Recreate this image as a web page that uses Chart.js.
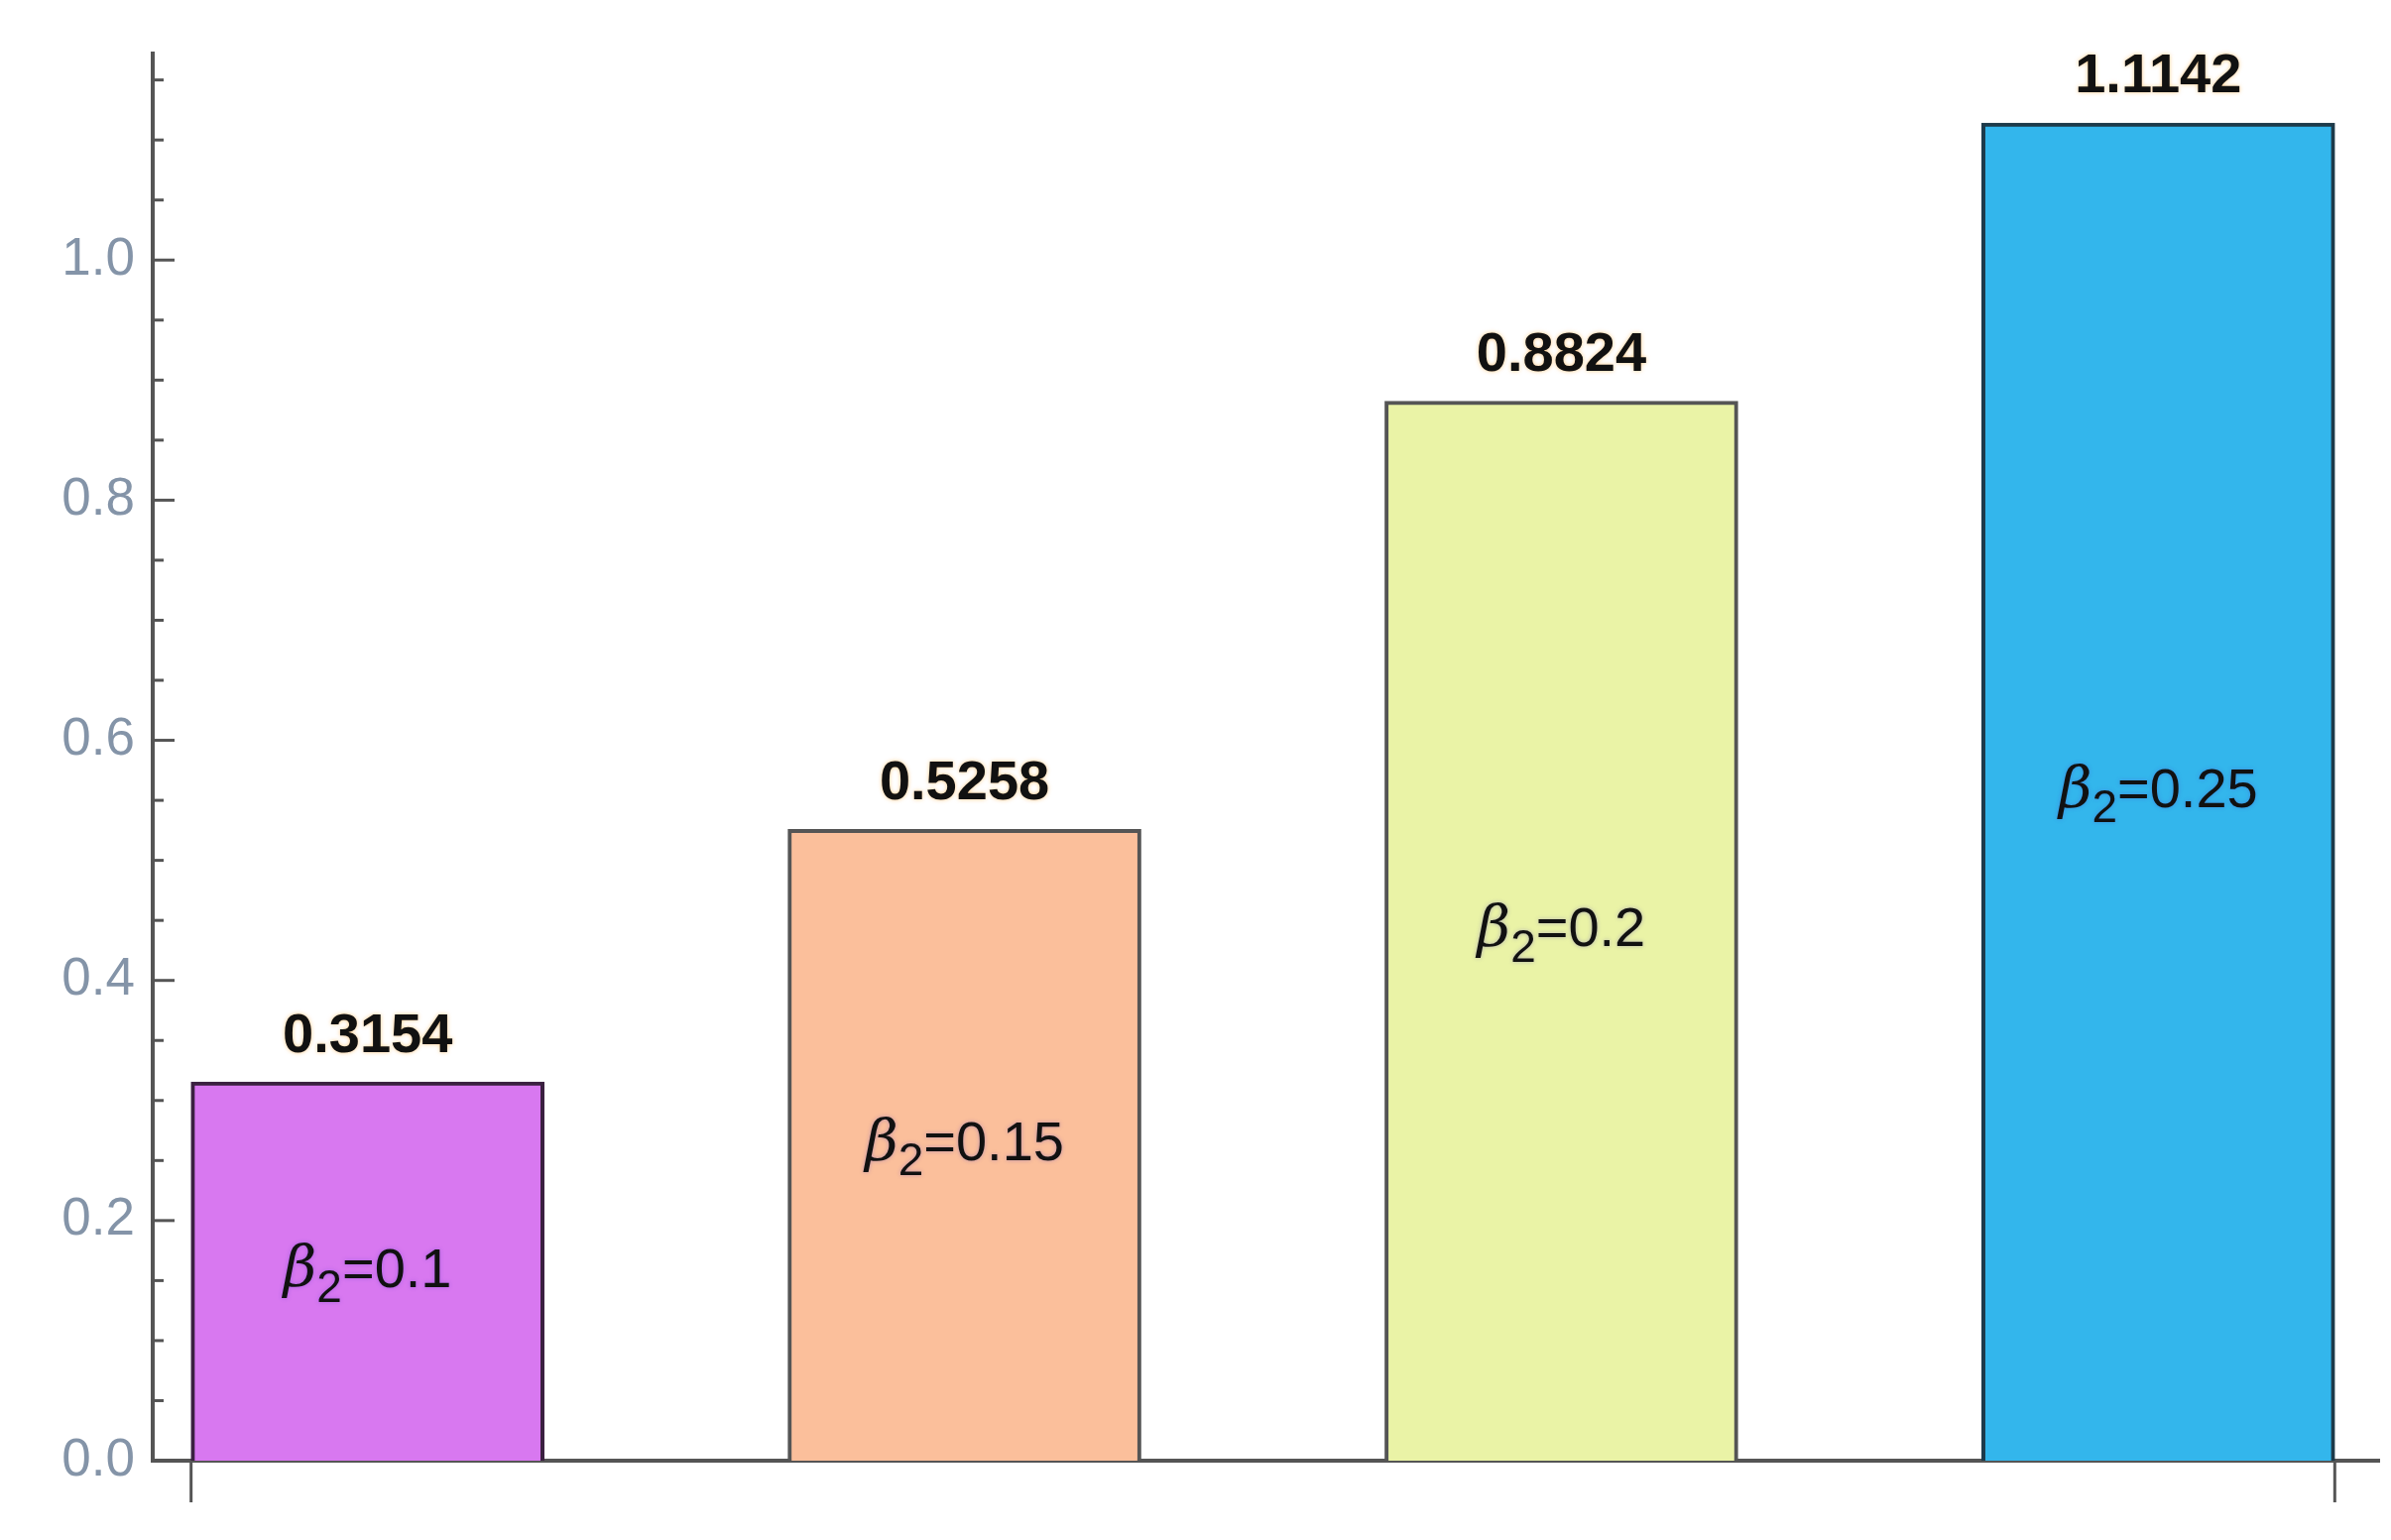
<!DOCTYPE html>
<html>
<head>
<meta charset="utf-8">
<script src="https://cdn.jsdelivr.net/npm/chart.js@4/dist/chart.umd.min.js"></script>
<style>
  html, body { margin: 0; padding: 0; background: #fff; }
  #wrap { width: 2411px; height: 1553px; }
</style>
</head>
<body>
<div id="wrap"><canvas id="c"></canvas></div>
<script>
// data
const positions = [1, 2, 3, 4];
const values = [0.3154, 0.5258, 0.8824, 1.1142];
const betaLabels = ['0.1', '0.15', '0.2', '0.25'];
const fills = ['#D878F0', '#FBBF9B', '#EAF3A6', '#33B6EC'];

const axisColor = '#555555';

// draws value labels, beta labels, inward y ticks and bottom x ticks
const decor = {
    id: 'decor',
    afterDatasetsDraw(chart) {
        const { ctx, scales: { x, y } } = chart;
        const bars = chart.getDatasetMeta(0).data;
        ctx.save();

        // y ticks pointing inward
        ctx.strokeStyle = axisColor;
        ctx.lineWidth = 3;
        const x0 = x.left;
        for (let i = 0; i <= 23; i++) {
            const v = i * 0.05;
            const py = y.getPixelForValue(v);
            const len = (i % 4 === 0) ? 22 : 11;
            ctx.beginPath();
            ctx.moveTo(x0, py);
            ctx.lineTo(x0 + len, py);
            ctx.stroke();
        }

        // x ticks below the axis at the outer bar edges
        const first = bars[0], last = bars[bars.length - 1];
        [first.x - first.width / 2, last.x + last.width / 2].forEach(px => {
            ctx.beginPath();
            ctx.moveTo(px, y.bottom);
            ctx.lineTo(px, y.bottom + 42);
            ctx.stroke();
        });

        bars.forEach((bar, i) => {
            // value above bar
            ctx.font = 'bold 56px "Liberation Sans", Arial, sans-serif';
            ctx.textAlign = 'center';
            ctx.textBaseline = 'bottom';
            ctx.fillStyle = '#111';
            ctx.shadowColor = 'rgba(255,170,60,0.6)';
            ctx.shadowBlur = 4;
            ctx.fillText(values[i].toFixed(4), bar.x, bar.y - 18);

            // beta label inside bar
            const midY = y.getPixelForValue(values[i] / 2);
            const beta = 'β';
            const sub = '2';
            const rest = '=' + betaLabels[i];
            ctx.font = 'italic 58px "DejaVu Serif", serif';
            const wb = ctx.measureText(beta).width;
            ctx.font = '46px "Liberation Sans", Arial, sans-serif';
            const ws = ctx.measureText(sub).width;
            ctx.font = '56px "Liberation Sans", Arial, sans-serif';
            const wr = ctx.measureText(rest).width;
            let sx = bar.x - (wb + ws + wr) / 2;
            ctx.textAlign = 'left';
            ctx.textBaseline = 'middle';
            ctx.shadowColor = 'rgba(80,60,200,0.35)';
            ctx.font = 'italic 58px "DejaVu Serif", serif';
            ctx.fillText(beta, sx, midY);
            sx += wb;
            ctx.font = '46px "Liberation Sans", Arial, sans-serif';
            ctx.fillText(sub, sx, midY + 18);
            sx += ws;
            ctx.font = '56px "Liberation Sans", Arial, sans-serif';
            ctx.fillText(rest, sx, midY);
        });
        ctx.restore();
    }
};

new Chart(document.getElementById('c'), {
    type: 'bar',
    data: {
        datasets: [{
            data: positions.map((p, i) => ({ x: p, y: values[i] })),
            backgroundColor: fills,
            borderColor: ['#3a2040', axisColor, axisColor, '#1d3a4a'],
            borderWidth: 4,
            borderSkipped: 'bottom',
            barThickness: 356
        }]
    },
    options: {
        responsive: true,
        maintainAspectRatio: false,
        animation: false,
        layout: { padding: { top: 54, right: 12, left: 0, bottom: 0 } },
        plugins: { legend: { display: false }, tooltip: { enabled: false } },
        scales: {
            x: {
                type: 'linear',
                offset: false,
                min: 0.64,
                max: 4.37,
                grid: { display: false, offset: false },
                border: { display: true, color: axisColor, width: 4 },
                ticks: { display: false },
                afterFit: s => { s.height = 80; }
            },
            y: {
                min: 0,
                max: 1.172,
                grid: { display: false },
                border: { display: true, color: axisColor, width: 4 },
                ticks: {
                    stepSize: 0.2,
                    color: '#8494a8',
                    font: { size: 53, family: '"Liberation Sans", Arial, sans-serif' },
                    padding: 10,
                    callback: v => (Math.abs(v * 5 - Math.round(v * 5)) < 1e-6 && v <= 1.0001) ? v.toFixed(1) : ''
                },
                afterFit: s => { s.width = 154; }
            }
        }
    },
    plugins: [decor]
});
</script>
</body>
</html>
